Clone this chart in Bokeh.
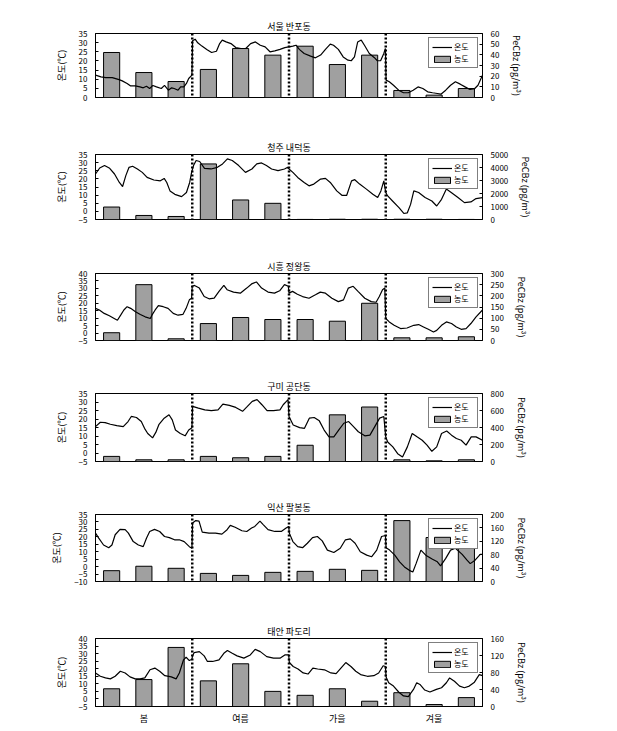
from bokeh.plotting import figure
from bokeh.models import Range1d, LinearAxis, FixedTicker, Span, Legend, LegendItem
from bokeh.layouts import column
from bokeh.embed import file_html
from bokeh.resources import INLINE

# ---------------- data ----------------
month_centers = [0.5, 1.5, 2.5, 3.5, 4.5, 5.5, 6.5, 7.5, 8.5, 9.5, 10.5, 11.5]
season_labels = ["봄", "여름", "가을", "겨울"]
season_centers = [1.5, 4.5, 7.5, 10.5]
season_bounds = [3, 6, 9]

# 서울 반포동
seoul_x = [0.00, 0.17, 0.32, 0.52, 0.73, 0.83, 0.98, 1.08, 1.23, 1.38, 1.48, 1.58, 1.68, 1.78, 1.89, 2.04, 2.14, 2.26, 2.36, 2.44, 2.56, 2.64, 2.74, 2.82, 2.89, 2.99,
           3.01, 3.09, 3.17, 3.30, 3.45, 3.60, 3.75, 3.85, 3.93, 4.05, 4.20, 4.35, 4.51, 4.66, 4.81, 4.96, 5.11, 5.26, 5.41, 5.56, 5.72, 5.87, 5.99,
           6.01, 6.12, 6.22, 6.32, 6.47, 6.67, 6.82, 6.98, 7.13, 7.28, 7.38, 7.53, 7.68, 7.83, 7.93, 8.03, 8.13, 8.24, 8.34, 8.49, 8.64, 8.74, 8.84, 8.94, 8.99,
           9.01, 9.11, 9.24, 9.40, 9.55, 9.70, 9.85, 10.00, 10.15, 10.30, 10.45, 10.60, 10.71, 10.86, 11.01, 11.16, 11.31, 11.46, 11.61, 11.76, 11.86, 12.00]
seoul_temp = [12.2, 11.3, 10.9, 10.9, 9.8, 9.1, 7.7, 6.4, 6.4, 5.8, 5.3, 6.2, 4.9, 6.6, 5.8, 4.9, 6.6, 4.0, 5.3, 4.9, 4.0, 5.8, 5.8, 7.7, 10.4, 12.2,
              31.0, 31.9, 29.9, 28.1, 26.3, 24.6, 25.3, 29.5, 31.4, 30.4, 29.5, 27.3, 26.8, 26.8, 29.5, 30.4, 28.6, 27.7, 25.0, 25.5, 26.3, 27.3, 27.7,
              27.7, 28.1, 28.6, 26.3, 24.1, 22.6, 21.7, 23.2, 26.3, 29.2, 28.6, 26.3, 22.2, 20.4, 20.1, 22.2, 30.4, 31.4, 28.6, 24.1, 21.9, 20.1, 20.1, 24.1, 26.8,
              9.5, 8.6, 6.7, 4.0, 2.6, 2.6, 4.0, 5.8, 4.9, 3.1, 2.6, 2.2, 1.8, 4.0, 6.7, 8.6, 7.3, 5.8, 4.4, 4.9, 6.7, 12.2]
seoul_conc = [42.2, 23.4, 15.0, 26.3, 45.9, 39.7, 48.1, 30.9, 39.7, 6.6, 2.2, 8.4]

# 청주 내덕동
cheongju_x = [0.00, 0.13, 0.28, 0.44, 0.59, 0.74, 0.84, 0.94, 1.04, 1.15, 1.30, 1.45, 1.60, 1.81, 2.01, 2.13, 2.21, 2.31, 2.46, 2.67, 2.82, 2.92, 2.98,
              3.04, 3.12, 3.23, 3.38, 3.58, 3.78, 3.94, 4.09, 4.24, 4.44, 4.65, 4.85, 5.00, 5.15, 5.30, 5.46, 5.66, 5.86, 5.96,
              6.00, 6.12, 6.27, 6.47, 6.62, 6.77, 6.98, 7.13, 7.28, 7.48, 7.64, 7.79, 7.94, 8.04, 8.19, 8.40, 8.60, 8.75, 8.85, 8.94,
              9.00, 9.06, 9.21, 9.41, 9.56, 9.67, 9.77, 9.87, 10.02, 10.22, 10.43, 10.58, 10.73, 10.88, 11.03, 11.24, 11.44, 11.64, 11.80, 12.00]
cheongju_temp = [23.0, 26.7, 28.2, 26.5, 23.0, 17.8, 15.3, 22.0, 27.1, 27.8, 26.1, 24.0, 20.9, 19.3, 18.8, 20.3, 17.8, 12.6, 10.5, 9.1, 11.6, 17.8, 24.0,
                 28.2, 31.3, 30.7, 26.5, 26.1, 27.1, 29.2, 32.3, 31.3, 28.2, 24.0, 26.1, 29.2, 29.8, 28.2, 26.1, 25.1, 26.1, 27.1,
                 26.1, 24.0, 20.9, 17.8, 15.7, 16.8, 19.9, 20.3, 17.8, 12.6, 9.9, 9.9, 18.8, 19.5, 16.8, 13.7, 10.5, 8.5, 12.6, 18.8,
                 11.6, 9.5, 6.4, 2.3, -1.3, -0.9, 4.3, 12.6, 11.6, 8.5, 6.4, 3.3, 7.4, 13.7, 11.6, 8.5, 5.4, 5.8, 7.9, 8.5]
cheongju_conc = [958, 311, 233, 4275, 1503, 1244, 5, 20, 20, 20, 20, 5]

# 시흥 정왕동
siheung_x = [0.00, 0.12, 0.27, 0.43, 0.58, 0.68, 0.78, 0.88, 0.98, 1.09, 1.24, 1.39, 1.54, 1.70, 1.75, 1.85, 1.95, 2.10, 2.25, 2.41, 2.56, 2.71, 2.81, 2.91, 2.98,
             3.00, 3.07, 3.22, 3.37, 3.52, 3.68, 3.83, 3.98, 4.08, 4.28, 4.49, 4.69, 4.84, 4.99, 5.15, 5.35, 5.55, 5.71, 5.86, 5.98,
             6.00, 6.11, 6.26, 6.42, 6.62, 6.82, 6.97, 7.13, 7.33, 7.53, 7.69, 7.84, 7.99, 8.14, 8.35, 8.55, 8.70, 8.80, 8.90, 8.97,
             9.00, 9.11, 9.26, 9.46, 9.66, 9.87, 10.02, 10.17, 10.32, 10.48, 10.58, 10.73, 10.88, 11.04, 11.19, 11.34, 11.49, 11.64, 11.80, 12.00]
siheung_temp = [16.6, 15.5, 13.2, 11.6, 9.8, 8.6, 12.0, 15.5, 17.7, 16.6, 14.3, 12.5, 10.9, 9.8, 12.0, 15.5, 18.4, 17.7, 16.6, 13.2, 12.0, 12.5, 16.6, 22.3, 23.4,
                31.4, 32.0, 30.2, 24.5, 23.0, 23.4, 28.0, 32.0, 29.1, 27.5, 26.8, 30.2, 33.0, 34.3, 30.2, 27.5, 26.8, 28.4, 32.5, 31.4,
                26.8, 28.0, 26.1, 24.5, 23.4, 25.7, 27.5, 26.8, 23.4, 21.1, 22.3, 30.2, 31.4, 28.0, 23.4, 21.1, 20.7, 24.5, 29.1, 30.2,
                9.8, 7.5, 5.2, 3.0, 3.4, 5.2, 5.7, 4.1, 2.5, 0.7, 1.8, 5.2, 7.5, 6.4, 4.1, 2.5, 3.0, 6.4, 10.9, 15.5]
siheung_conc = [34.8, 250, 7.6, 75.8, 103, 94, 94, 86.4, 166.7, 12, 12, 16.7]

# 구미 공단동
gumi_x = [0.00, 0.15, 0.30, 0.46, 0.66, 0.86, 1.01, 1.11, 1.27, 1.42, 1.52, 1.62, 1.77, 1.87, 1.97, 2.13, 2.28, 2.38, 2.48, 2.63, 2.78, 2.89, 2.99,
          3.01, 3.19, 3.39, 3.59, 3.80, 3.95, 4.15, 4.35, 4.56, 4.71, 4.86, 5.01, 5.16, 5.32, 5.52, 5.72, 5.82, 5.92, 5.97,
          6.00, 6.13, 6.33, 6.48, 6.63, 6.78, 6.94, 7.09, 7.24, 7.39, 7.54, 7.70, 7.85, 8.00, 8.15, 8.35, 8.51, 8.66, 8.81, 8.94,
          9.00, 9.06, 9.22, 9.37, 9.52, 9.67, 9.82, 9.97, 10.13, 10.28, 10.43, 10.58, 10.73, 10.89, 11.04, 11.19, 11.34, 11.49, 11.65, 11.80, 12.00]
gumi_temp = [15.5, 18.1, 17.9, 16.9, 16.1, 15.5, 18.5, 21.5, 20.9, 18.5, 14.5, 11.5, 8.9, 12.1, 16.9, 20.5, 22.5, 19.5, 13.5, 11.5, 10.1, 13.5, 14.9,
             27.4, 26.4, 25.4, 24.9, 25.4, 28.8, 28.0, 26.8, 24.5, 27.4, 30.4, 31.4, 28.4, 24.9, 24.9, 25.4, 28.4, 30.4, 31.4,
             21.5, 16.5, 14.9, 14.5, 20.5, 20.9, 18.9, 13.5, 9.5, 9.5, 13.5, 17.5, 18.5, 15.5, 12.5, 10.1, 10.5, 15.5, 20.5, 21.5,
             9.5, 6.5, 3.6, -0.4, -2.4, 3.6, 11.5, 9.5, 7.5, 4.6, 1.0, 3.6, 11.5, 12.9, 10.5, 8.5, 7.5, 4.6, 9.5, 9.5, 7.5]
gumi_conc = [60, 20, 20, 60, 44, 60, 191, 549, 641, 20, 8, 20]

# 익산 팔봉동
iksan_x = [0.00, 0.10, 0.25, 0.41, 0.51, 0.61, 0.76, 0.92, 1.02, 1.17, 1.33, 1.48, 1.58, 1.68, 1.83, 1.99, 2.14, 2.29, 2.45, 2.60, 2.75, 2.91, 2.99,
           3.01, 3.11, 3.21, 3.31, 3.52, 3.72, 3.92, 4.08, 4.18, 4.33, 4.54, 4.69, 4.84, 4.94, 5.10, 5.20, 5.35, 5.56, 5.76, 5.91, 5.99,
           6.01, 6.12, 6.27, 6.42, 6.57, 6.73, 6.88, 7.03, 7.19, 7.39, 7.59, 7.75, 7.90, 8.05, 8.21, 8.41, 8.56, 8.72, 8.87, 8.99,
           9.01, 9.12, 9.28, 9.43, 9.58, 9.73, 9.84, 9.94, 10.09, 10.24, 10.45, 10.60, 10.70, 10.86, 11.01, 11.16, 11.37, 11.52, 11.62, 11.77, 11.93, 12.00]
iksan_temp = [22.5, 19.1, 14.5, 12.7, 14.5, 21.4, 25.0, 24.8, 22.5, 16.8, 14.5, 13.4, 19.1, 23.6, 25.0, 23.6, 20.2, 19.5, 18.0, 18.0, 16.8, 13.4, 12.3,
              29.3, 30.9, 30.5, 23.2, 22.5, 22.5, 21.8, 24.8, 27.7, 26.4, 24.1, 23.6, 25.9, 27.0, 30.5, 28.2, 24.8, 23.6, 23.6, 25.9, 27.0,
              22.5, 16.8, 13.4, 12.7, 15.7, 19.5, 20.2, 17.3, 11.1, 9.5, 12.3, 18.0, 18.6, 15.7, 10.0, 7.7, 6.6, 11.1, 20.2, 20.9,
              12.7, 11.1, 7.7, 3.2, -0.2, -2.5, -3.6, 2.0, 11.1, 7.7, 5.0, 3.2, 0.5, 5.5, 11.1, 12.3, 8.2, 4.3, 2.0, 4.3, 8.2, 8.2]
iksan_conc = [32.3, 45.5, 39.4, 24.2, 18.2, 27.3, 30.3, 36.4, 33.3, 181.8, 131.3, 101.0]

# 태안 파도리
taean_x = [0.00, 0.15, 0.31, 0.46, 0.61, 0.77, 0.92, 1.07, 1.23, 1.38, 1.53, 1.69, 1.84, 1.99, 2.15, 2.35, 2.50, 2.60, 2.73, 2.81, 2.91, 2.99,
           3.01, 3.06, 3.22, 3.37, 3.47, 3.63, 3.83, 3.98, 4.09, 4.24, 4.39, 4.60, 4.80, 4.95, 5.11, 5.31, 5.52, 5.72, 5.87, 5.99,
           6.01, 6.13, 6.28, 6.44, 6.59, 6.74, 6.89, 7.10, 7.30, 7.46, 7.61, 7.76, 7.92, 8.07, 8.22, 8.43, 8.63, 8.78, 8.92, 8.99,
           9.01, 9.09, 9.24, 9.40, 9.55, 9.70, 9.86, 9.96, 10.06, 10.21, 10.37, 10.57, 10.73, 10.88, 10.98, 11.13, 11.29, 11.44, 11.59, 11.75, 11.90, 12.00]
taean_temp = [17.2, 15.0, 13.9, 13.3, 15.0, 18.3, 17.2, 14.6, 13.3, 13.3, 13.9, 19.3, 20.4, 18.3, 15.4, 14.6, 13.3, 17.2, 25.9, 27.6, 25.4, 26.3,
              28.5, 30.7, 31.3, 28.5, 24.8, 24.8, 25.9, 30.2, 32.0, 30.2, 28.5, 27.0, 29.1, 32.8, 31.3, 28.0, 27.0, 27.0, 29.1, 29.1,
              24.1, 21.5, 19.8, 17.2, 16.5, 20.4, 19.8, 19.3, 17.2, 16.7, 20.4, 24.1, 21.5, 18.3, 16.1, 15.0, 15.4, 17.2, 22.0, 21.5,
              14.6, 10.7, 8.5, 4.6, 2.0, 1.5, 6.3, 10.7, 9.6, 5.9, 4.6, 6.3, 7.4, 10.7, 13.9, 11.7, 8.5, 7.4, 8.5, 11.1, 16.1, 15.4]
taean_conc = [41.7, 63.4, 139.0, 60.3, 100.5, 35.6, 26.3, 41.7, 12.4, 32.5, 4.6, 20.9]

panels = [
    dict(title="서울 반포동", x=seoul_x, t=seoul_temp, c=seoul_conc,
         tlo=0, thi=35, tstep=5, chi=60, cstep=10),
    dict(title="청주 내덕동", x=cheongju_x, t=cheongju_temp, c=cheongju_conc,
         tlo=-5, thi=35, tstep=5, chi=5000, cstep=1000),
    dict(title="시흥 정왕동", x=siheung_x, t=siheung_temp, c=siheung_conc,
         tlo=-5, thi=40, tstep=5, chi=300, cstep=50),
    dict(title="구미 공단동", x=gumi_x, t=gumi_temp, c=gumi_conc,
         tlo=-5, thi=35, tstep=5, chi=800, cstep=200),
    dict(title="익산 팔봉동", x=iksan_x, t=iksan_temp, c=iksan_conc,
         tlo=-10, thi=35, tstep=5, chi=200, cstep=40),
    dict(title="태안 파도리", x=taean_x, t=taean_temp, c=taean_conc,
         tlo=-5, thi=40, tstep=5, chi=160, cstep=40),
]

# layout: (frame_left, frame_right, border_top, frame_height, border_bottom)
geom = [
    (93, 489, 33, 64, 33),
    (88, 482, 24, 65, 26),
    (89, 483, 28, 67, 25),
    (90, 485, 28, 68, 24),
    (95, 487, 29, 67, 27),
    (95, 487, 30, 68, 24),
]

W = 617
FONT = "Noto Sans CJK KR"


def style_axis(ax, label_size="8px"):
    ax.axis_label_text_font = FONT
    ax.axis_label_text_font_size = "9px"
    ax.axis_label_text_font_style = "normal"
    ax.axis_label_text_color = "black"
    ax.axis_label_standoff = 8
    ax.major_label_text_font = FONT
    ax.major_label_text_font_size = label_size
    ax.major_label_text_color = "black"
    ax.major_label_standoff = 8
    ax.major_tick_in = 3
    ax.major_tick_out = 0
    ax.minor_tick_in = 0
    ax.minor_tick_out = 0
    ax.axis_line_color = "black"
    ax.major_tick_line_color = "black"


figs = []
for i, (pd_, g) in enumerate(zip(panels, geom)):
    fl, fr, bt, fh, bb = g
    H = bt + fh + bb
    p = figure(width=W, height=H, output_backend="svg", toolbar_location=None,
               x_range=Range1d(0, 12), y_range=Range1d(pd_["tlo"], pd_["thi"]),
               min_border_left=fl, min_border_right=W - fr,
               min_border_top=bt, min_border_bottom=bb)
    p.outline_line_color = "black"
    p.outline_line_width = 1
    p.background_fill_color = "white"
    p.border_fill_color = "white"
    p.xgrid.visible = False
    p.ygrid.visible = False

    p.title.text = pd_["title"]
    p.title.align = "center"
    p.title.text_font = FONT
    p.title.text_font_size = "9px"
    p.title.text_font_style = "normal"
    p.title.text_color = "black"
    p.title.standoff = 1

    p.extra_y_ranges = {"c": Range1d(0, pd_["chi"])}

    bars = p.vbar(x=month_centers, top=pd_["c"], width=0.5, bottom=0,
                  y_range_name="c", fill_color="#a0a0a0", line_color="black",
                  line_width=1)
    line = p.line(pd_["x"], pd_["t"], line_color="black", line_width=1.2)

    for b in season_bounds:
        p.add_layout(Span(location=b, dimension="height", line_color="black",
                          line_width=2.5, line_dash="2 2"))

    yax = p.yaxis[0]
    yax.ticker = FixedTicker(ticks=list(range(pd_["tlo"], pd_["thi"] + 1, pd_["tstep"])))
    yax.axis_label = "온도(℃)"
    style_axis(yax)

    rax = LinearAxis(y_range_name="c",
                     ticker=FixedTicker(ticks=list(range(0, pd_["chi"] + 1, pd_["cstep"]))))
    rax.axis_label = "PeCBz (pg/m³)"
    style_axis(rax)
    p.add_layout(rax, "right")

    xax = p.xaxis[0]
    if i < len(panels) - 1:
        xax.visible = False
    else:
        xax.ticker = FixedTicker(ticks=season_centers)
        xax.major_label_overrides = {c: l for c, l in zip(season_centers, season_labels)}
        style_axis(xax, "9px")
        xax.major_label_standoff = 5
        xax.major_tick_in = 0

    legend = Legend(items=[LegendItem(label="온도", renderers=[line]),
                           LegendItem(label="농도", renderers=[bars])],
                    location="top_right")
    legend.label_text_font = FONT
    legend.label_text_font_size = "8px"
    legend.label_text_color = "black"
    legend.label_height = 8
    legend.glyph_height = 8
    legend.glyph_width = 20
    legend.label_standoff = 2
    legend.padding = 3
    legend.spacing = 1
    legend.margin = 4
    legend.border_line_color = "black"
    legend.border_line_width = 1
    legend.background_fill_alpha = 1
    p.add_layout(legend)
    figs.append(p)

layout = column(*figs, spacing=0)
open("out.html", "w").write(file_html(layout, INLINE))
